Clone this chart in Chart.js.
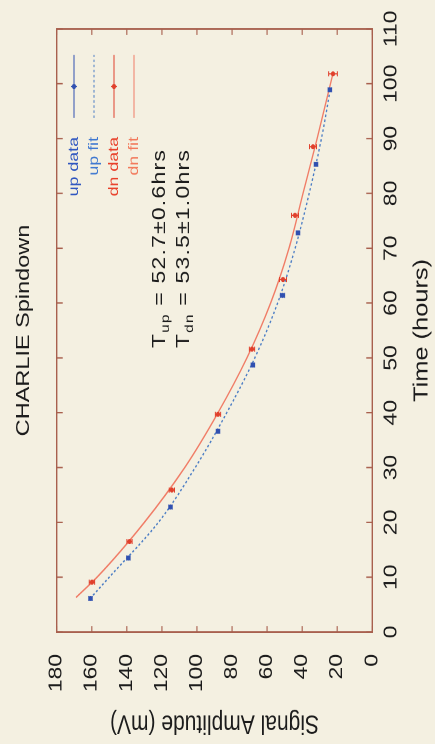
<!DOCTYPE html>
<html>
<head>
<meta charset="utf-8">
<script src="https://cdn.jsdelivr.net/npm/chart.js@4.4.1/dist/chart.umd.min.js"></script>
<style>
html,body{margin:0;padding:0;background:#f4f0e1;overflow:hidden;width:435px;height:744px;}
#wrap{position:absolute;left:0;top:0;width:586px;height:435px;transform-origin:0 0;
  transform:translateY(744px) rotate(-90deg) scaleX(1.2696);}
canvas{display:block;}
</style>
</head>
<body>
<div id="wrap"><canvas id="c" width="586" height="435"></canvas></div>
<script>
// ---- data ----
const chartTitle = 'CHARLIE Spindown';
const xTitle = 'Time (hours)';
const yTitle = 'Signal Amplitude (mV)';
const xTicks = [0, 10, 20, 30, 40, 50, 60, 70, 80, 90, 100, 110];
const yTicks = [0, 20, 40, 60, 80, 100, 120, 140, 160, 180];
const seriesLabels = ['up data', 'up fit', 'dn data', 'dn fit'];

const upTime = [6.1, 13.5, 22.8, 36.6, 48.7, 61.4, 72.8, 85.3, 98.9];
const upAmp  = [160.7, 139.1, 115.1, 88.0, 68.1, 51.2, 42.4, 32.1, 24.2];
const upErr  = [1.0, 1.0, 1.0, 1.0, 1.0, 1.2, 1.0, 1.0, 1.0];

const dnTime = [9.1, 16.5, 25.9, 39.7, 51.6, 64.3, 76.0, 88.5, 101.8];
const dnAmp  = [159.9, 138.5, 114.3, 88.0, 68.6, 50.9, 44.1, 33.8, 22.4];
const dnErr  = [1.5, 1.5, 1.5, 1.5, 1.5, 2.0, 2.0, 2.0, 2.5];

const upFitTime = [6.1, 10, 20, 30, 40, 50, 60, 70, 80, 90, 98.9];
const upFitAmp  = [161, 150, 122, 101, 83, 67, 54, 44, 36, 29, 24];
const dnFitTime = [6.3, 10, 20, 30, 40, 50, 60, 70, 80, 90, 101.8];
const dnFitAmp  = [169, 157, 130, 107, 88, 71.5, 58, 47.5, 39.5, 31.5, 22.5];

const annotLines = [
  {sym: 'T', sub: 'up', rest: ' = 52.7\u00B10.6hrs'},
  {sym: 'T', sub: 'dn', rest: ' = 53.5\u00B11.0hrs'}
];

// ---- styling / layout ----
const FONT = '"Liberation Sans", Arial, Helvetica, sans-serif';
const BG = '#f4f0e1';
const INK = '#1c1c1c';
const FRAME = '#a8604e';

const pts = (xs, ys) => xs.map((v, i) => ({x: v, y: ys[i]}));

const bgPlugin = {
  id: 'bg',
  beforeDraw(chart) {
    const c = chart.ctx; c.save(); c.fillStyle = BG;
    c.fillRect(0, 0, chart.width, chart.height); c.restore();
  }
};

const errPlugin = {
  id: 'errbars',
  afterDatasetsDraw(chart) {
    const {ctx, scales: {x, y}} = chart;
    chart.data.datasets.forEach(ds => {
      if (!ds.errors) return;
      ctx.save(); ctx.strokeStyle = ds.borderColor; ctx.lineWidth = 1;
      ds.data.forEach((p, j) => {
        const e = ds.errors[j];
        const px = x.getPixelForValue(p.x);
        const y1 = y.getPixelForValue(p.y - e), y2 = y.getPixelForValue(p.y + e);
        ctx.beginPath();
        ctx.moveTo(px, y1); ctx.lineTo(px, y2);
        ctx.moveTo(px - 2, y1); ctx.lineTo(px + 2, y1);
        ctx.moveTo(px - 2, y2); ctx.lineTo(px + 2, y2);
        ctx.stroke();
      });
      ctx.restore();
    });
  }
};

const framePlugin = {
  id: 'frame',
  afterDatasetsDraw(chart) {
    const {ctx, chartArea: a, scales: {x, y}} = chart;
    ctx.save();
    ctx.strokeStyle = FRAME; ctx.lineWidth = 1.4;
    ctx.strokeRect(a.left, a.top, a.right - a.left, a.bottom - a.top);
    ctx.lineWidth = 1.1;
    ctx.beginPath();
    x.ticks.forEach(t => {
      const px = x.getPixelForValue(t.value);
      ctx.moveTo(px, a.bottom); ctx.lineTo(px, a.bottom - 6);
      ctx.moveTo(px, a.top); ctx.lineTo(px, a.top + 6);
    });
    y.ticks.forEach(t => {
      const py = y.getPixelForValue(t.value);
      ctx.moveTo(a.left, py); ctx.lineTo(a.left + 4.7, py);
      ctx.moveTo(a.right, py); ctx.lineTo(a.right - 4.7, py);
    });
    ctx.stroke();
    ctx.restore();
  }
};

const keyPlugin = {
  id: 'key',
  afterDraw(chart) {
    const {ctx, chartArea: a} = chart;
    ctx.save();
    ctx.font = '14px ' + FONT;
    ctx.textAlign = 'right'; ctx.textBaseline = 'middle';
    const textEnd = a.left + 389.9, s0 = a.left + 404.9, s1 = a.left + 454.5;
    chart.data.datasets.forEach((ds, i) => {
      const yy = a.top + 17.3 + i * 20;
      ctx.fillStyle = ds.keyColor || ds.borderColor;
      ctx.fillText(ds.label, textEnd, yy);
      ctx.strokeStyle = ds.borderColor; ctx.lineWidth = 1;
      ctx.setLineDash(ds.borderDash || []);
      ctx.beginPath(); ctx.moveTo(s0, yy); ctx.lineTo(s1, yy); ctx.stroke();
      ctx.setLineDash([]);
      if (ds.errors) {
        const m = (s0 + s1) / 2;
        ctx.beginPath(); ctx.moveTo(m, yy - 3); ctx.lineTo(m, yy + 3); ctx.stroke();
        ctx.fillStyle = ds.backgroundColor;
        ctx.beginPath(); ctx.arc(m, yy, 2, 0, Math.PI * 2); ctx.fill();
      }
    });
    ctx.restore();
  }
};

const annotPlugin = {
  id: 'annot',
  afterDraw(chart) {
    const {ctx, chartArea: a} = chart;
    ctx.save();
    ctx.fillStyle = INK; ctx.textAlign = 'left'; ctx.textBaseline = 'alphabetic';
    annotLines.forEach((ln, i) => {
      const base = a.top + 108.3 + i * 24;
      let xx = a.left + 223.7;
      try { ctx.letterSpacing = '1px'; } catch (e) {}
      ctx.font = '18px ' + FONT;
      ctx.fillText(ln.sym, xx, base); xx += ctx.measureText(ln.sym).width;
      ctx.font = '12px ' + FONT;
      ctx.fillText(ln.sub, xx, base + 4); xx += ctx.measureText(ln.sub).width;
      ctx.font = '18px ' + FONT;
      ctx.fillText(ln.rest, xx, base);
    });
    ctx.restore();
  }
};

const blue = '#3050b0', blueFit = '#4a7cc4', red = '#e0402c', redFit = '#f07c66';

new Chart(document.getElementById('c'), {
  type: 'scatter',
  data: {
    datasets: [
      {label: seriesLabels[0], data: pts(upTime, upAmp), errors: upErr,
       borderColor: blue, backgroundColor: blue, keyColor: '#2f56c0',
       pointRadius: 2, pointBorderWidth: 0, showLine: false},
      {label: seriesLabels[1], data: pts(upFitTime, upFitAmp),
       borderColor: blueFit, backgroundColor: blueFit, keyColor: '#3f78d0',
       borderWidth: 1.3, borderDash: [2, 2], pointRadius: 0, showLine: true, tension: 0.4,
       cubicInterpolationMode: 'monotone'},
      {label: seriesLabels[2], data: pts(dnTime, dnAmp), errors: dnErr,
       borderColor: red, backgroundColor: red, keyColor: '#e8402a',
       pointRadius: 2, pointBorderWidth: 0, showLine: false},
      {label: seriesLabels[3], data: pts(dnFitTime, dnFitAmp),
       borderColor: redFit, backgroundColor: redFit, keyColor: '#f27a5c',
       borderWidth: 1.3, pointRadius: 0, showLine: true, tension: 0.4,
       cubicInterpolationMode: 'monotone'}
    ]
  },
  options: {
    responsive: false,
    animation: false,
    devicePixelRatio: 2,
    events: [],
    layout: {padding: {left: 0, right: 19.3, top: 0, bottom: 0}},
    plugins: {
      legend: {display: false},
      tooltip: {enabled: false},
      title: {display: true, text: chartTitle, fullSize: false, color: INK,
              font: {family: FONT, size: 18.5, weight: 'normal'},
              padding: {top: 13, bottom: 21.5}}
    },
    scales: {
      x: {
        type: 'linear', min: 0, max: 110,
        afterBuildTicks: s => { s.ticks = xTicks.map(v => ({value: v})); },
        afterFit: s => { s.height = 62.7; },
        grid: {display: false, drawTicks: false},
        border: {display: false},
        ticks: {color: INK, font: {family: FONT, size: 18}, padding: 8.4, maxRotation: 0},
        title: {display: true, text: xTitle, color: INK,
                font: {family: FONT, size: 20}, padding: {top: 0, bottom: 1}}
      },
      y: {
        type: 'linear', min: 0, max: 180,
        afterBuildTicks: s => { s.ticks = yTicks.map(v => ({value: v})); },
        afterFit: s => { s.width = 88.2; },
        grid: {display: false, drawTicks: false},
        border: {display: false},
        ticks: {color: INK, font: {family: FONT, size: 18}, padding: 17.3},
        title: {display: true, text: yTitle, color: INK,
                font: {family: FONT, size: 21}, padding: {top: 4.3, bottom: 0}}
      }
    }
  },
  plugins: [bgPlugin, errPlugin, framePlugin, keyPlugin, annotPlugin]
});
</script>
</body>
</html>
